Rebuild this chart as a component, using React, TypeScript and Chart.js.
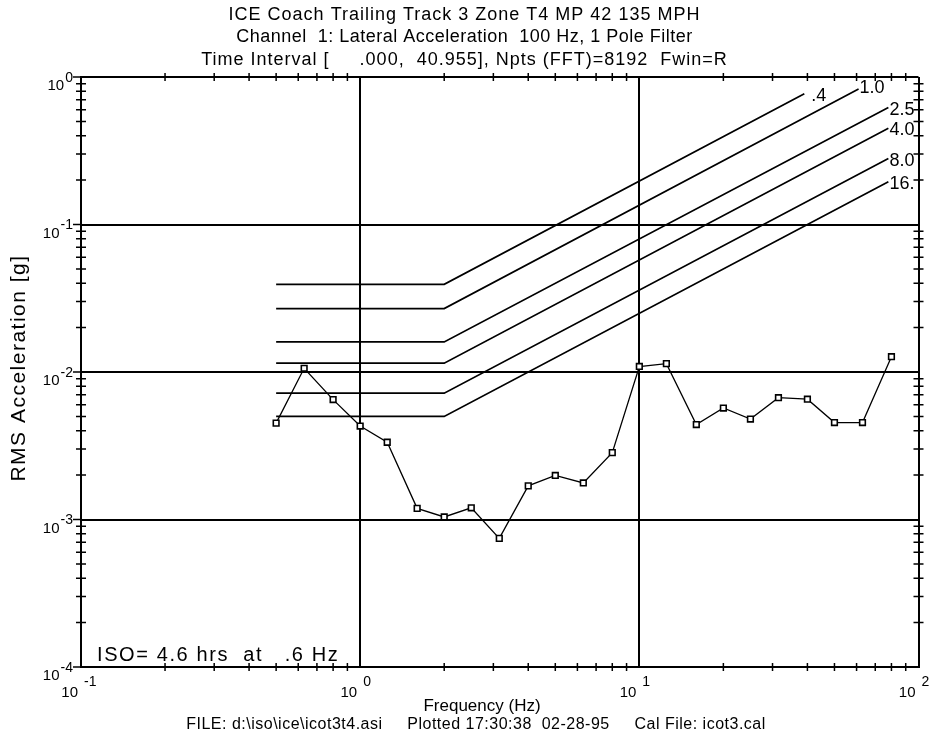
import React, { useEffect, useRef } from 'react';
import { Chart, registerables } from 'chart.js';

Chart.register(...registerables);

// ---------- Data ----------
const titleLines = [
  'ICE Coach Trailing Track 3 Zone T4 MP 42 135 MPH',
  'Channel  1: Lateral Acceleration  100 Hz, 1 Pole Filter',
  'Time Interval [     .000,  40.955], Npts (FFT)=8192  Fwin=R',
];
const titleSpacing = [1, 0.5, 1];
const xAxisTitle = 'Frequency (Hz)';
const yAxisTitle = 'RMS Acceleration [g]';
const isoNote = 'ISO= 4.6 hrs  at   .6 Hz';
const footerText = 'FILE: d:\\iso\\ice\\icot3t4.asi     Plotted 17:30:38  02-28-95     Cal File: icot3.cal';

const xDecadeValues = [0.1, 1, 10, 100];
const xDecadeExponents = ['-1', '0', '1', '2'];
const yDecadeValues = [0.0001, 0.001, 0.01, 0.1, 1];
const yDecadeExponents = ['-4', '-3', '-2', '-1', '0'];
const minorMultipliers = [2, 3, 4, 5, 6, 7, 8, 9];

const frequencies = [0.5, 0.63, 0.8, 1, 1.25, 1.6, 2, 2.5, 3.15, 4, 5, 6.3, 8, 10, 12.5, 16, 20, 25, 31.5, 40, 50, 63, 80];
const rmsAcceleration = [
  0.0045, 0.0106, 0.0065, 0.0043, 0.00334, 0.00119, 0.00104, 0.0012, 0.000745, 0.00169, 0.00199, 0.00177,
  0.00284, 0.0109, 0.0114, 0.0044, 0.0057, 0.0048, 0.0067, 0.00654, 0.00454, 0.00454, 0.0127,
];

// ISO exposure boundary curves (hours): flat segment then rising segment
const isoLabels = ['.4', '1.0', '2.5', '4.0', '8.0', '16.'];
const isoFreq04 = [0.5, 2, 39];
const isoVal04 = [0.0393, 0.0393, 0.77];
const isoFreq10 = [0.5, 2, 61];
const isoVal10 = [0.0269, 0.0269, 0.83];
const isoFreq25 = [0.5, 2, 78];
const isoVal25 = [0.016, 0.016, 0.62];
const isoFreq40 = [0.5, 2, 78];
const isoVal40 = [0.01148, 0.01148, 0.45];
const isoFreq80 = [0.5, 2, 78];
const isoVal80 = [0.00718, 0.00718, 0.28];
const isoFreq16 = [0.5, 2, 78];
const isoVal16 = [0.005, 0.005, 0.195];

const isoFreqs = [isoFreq04, isoFreq10, isoFreq25, isoFreq40, isoFreq80, isoFreq16];
const isoVals = [isoVal04, isoVal10, isoVal25, isoVal40, isoVal80, isoVal16];

const FONT = '"Liberation Sans", Arial, Helvetica, sans-serif';

function setSpacing(ctx: any, px: number) {
  if ('letterSpacing' in ctx) ctx.letterSpacing = `${px}px`;
}

const framePlugin = {
  id: 'frame',
  afterDraw(chart: any) {
    const ctx: CanvasRenderingContext2D = chart.ctx;
    const xs = chart.scales.x;
    const ys = chart.scales.y;
    const { left, right, top, bottom } = chart.chartArea;
    const W = chart.width;
    ctx.save();
    ctx.strokeStyle = '#000';
    ctx.fillStyle = '#000';
    ctx.lineWidth = 1.5;

    // minor ticks on x (bottom & top)
    for (let i = 0; i < xDecadeValues.length - 1; i++) {
      for (const m of minorMultipliers) {
        const px = xs.getPixelForValue(xDecadeValues[i] * m);
        ctx.beginPath();
        ctx.moveTo(px, bottom - 4);
        ctx.lineTo(px, bottom + 4);
        ctx.moveTo(px, top - 4);
        ctx.lineTo(px, top + 4);
        ctx.stroke();
      }
    }
    // minor ticks on y (left & right)
    for (let i = 0; i < yDecadeValues.length - 1; i++) {
      for (const m of minorMultipliers) {
        const py = ys.getPixelForValue(yDecadeValues[i] * m);
        ctx.beginPath();
        ctx.moveTo(left - 5, py);
        ctx.lineTo(left + 5, py);
        ctx.moveTo(right - 5, py);
        ctx.lineTo(right + 5, py);
        ctx.stroke();
      }
    }
    // decade tick stubs
    for (const v of yDecadeValues) {
      const py = ys.getPixelForValue(v);
      ctx.beginPath();
      ctx.moveTo(left - 8, py);
      ctx.lineTo(left, py);
      ctx.stroke();
    }

    // x tick labels
    ctx.textBaseline = 'middle';
    xDecadeValues.forEach((v, i) => {
      const px = xs.getPixelForValue(v);
      ctx.font = `15px ${FONT}`;
      ctx.textAlign = 'right';
      ctx.fillText('10', px - 3, bottom + 26);
      ctx.font = `14px ${FONT}`;
      ctx.textAlign = 'left';
      ctx.fillText(xDecadeExponents[i], px + 3, bottom + 15);
    });
    // y tick labels
    yDecadeValues.forEach((v, i) => {
      const py = ys.getPixelForValue(v);
      ctx.font = `14px ${FONT}`;
      ctx.textAlign = 'right';
      const expW = ctx.measureText(yDecadeExponents[i]).width;
      ctx.fillText(yDecadeExponents[i], left - 8, py + 1);
      ctx.font = `15px ${FONT}`;
      ctx.fillText('10', left - 9 - expW, py + 9);
    });

    // title
    ctx.font = `18px ${FONT}`;
    ctx.textAlign = 'center';
    titleLines.forEach((t, i) => {
      setSpacing(ctx, titleSpacing[i]);
      ctx.fillText(t, W / 2, 15 + i * 22.5);
    });

    // axis titles
    ctx.font = `17px ${FONT}`;
    setSpacing(ctx, 0);
    ctx.fillText(xAxisTitle, 482, bottom + 39);
    ctx.font = `16px ${FONT}`;
    setSpacing(ctx, 0.5);
    ctx.fillText(footerText, 476, bottom + 58);
    ctx.save();
    ctx.translate(19, (top + bottom) / 2 - 4);
    ctx.rotate(-Math.PI / 2);
    ctx.font = `21px ${FONT}`;
    setSpacing(ctx, 1.5);
    ctx.fillText(yAxisTitle, 0, 0);
    ctx.restore();

    // ISO note
    ctx.font = `20px ${FONT}`;
    setSpacing(ctx, 1.6);
    ctx.textAlign = 'left';
    ctx.fillText(isoNote, left + 16, bottom - 12);

    // ISO curve labels
    ctx.font = `18px ${FONT}`;
    setSpacing(ctx, 0);
    isoLabels.forEach((lab, i) => {
      const f = isoFreqs[i];
      const a = isoVals[i];
      const px = xs.getPixelForValue(f[f.length - 1]);
      const py = ys.getPixelForValue(a[a.length - 1]);
      ctx.fillText(lab, px + (i === 0 ? 7 : 1), py + (i === 1 ? -1 : 2));
    });
    ctx.restore();
  },
};

export default function App() {
  const canvasRef = useRef<HTMLCanvasElement | null>(null);

  useEffect(() => {
    if (!canvasRef.current) return;
    const isoDatasets = isoLabels.map((lab, i) => ({
      label: `ISO ${lab} h`,
      data: isoFreqs[i].map((f, j) => ({ x: f, y: isoVals[i][j] })),
      borderColor: '#000',
      borderWidth: 1.7,
      pointRadius: 0,
      tension: 0,
      fill: false,
    }));
    const chart = new Chart(canvasRef.current, {
      type: 'line',
      data: {
        datasets: [
          ...isoDatasets,
          {
            label: 'RMS Acceleration',
            data: frequencies.map((f, i) => ({ x: f, y: rmsAcceleration[i] })),
            borderColor: '#000',
            borderWidth: 1.3,
            pointStyle: 'rect',
            pointRadius: 4,
            pointBorderWidth: 1.6,
            pointBorderColor: '#000',
            pointBackgroundColor: '#fff',
            tension: 0,
            fill: false,
          },
        ],
      },
      options: {
        responsive: true,
        maintainAspectRatio: false,
        animation: false,
        layout: { padding: { left: 81, right: 10.5, top: 77, bottom: 67 } },
        plugins: {
          legend: { display: false },
          title: { display: false },
          tooltip: { enabled: false },
        },
        scales: {
          x: {
            type: 'logarithmic',
            min: 0.1,
            max: 100,
            afterBuildTicks: (scale: any) => {
              scale.ticks = xDecadeValues.map((v) => ({ value: v }));
            },
            ticks: { display: false },
            grid: { color: '#000', lineWidth: 2, drawTicks: false },
            border: { display: true, color: '#000', width: 2 },
          },
          y: {
            type: 'logarithmic',
            min: 0.0001,
            max: 1,
            afterBuildTicks: (scale: any) => {
              scale.ticks = yDecadeValues.map((v) => ({ value: v }));
            },
            ticks: { display: false },
            grid: { color: '#000', lineWidth: 2, drawTicks: false },
            border: { display: true, color: '#000', width: 2 },
          },
        },
      },
      plugins: [framePlugin],
    });
    return () => chart.destroy();
  }, []);

  return (
    <div style={{ position: 'absolute', left: 0, top: 0, width: 929, height: 734, background: '#fff' }}>
      <canvas ref={canvasRef} />
    </div>
  );
}
